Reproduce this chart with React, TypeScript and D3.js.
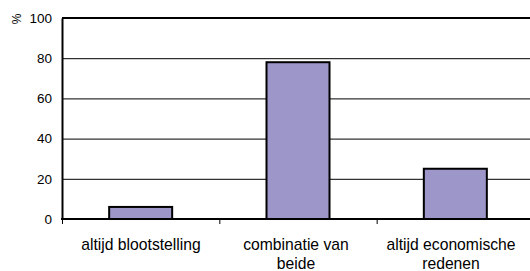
import React, { useEffect, useRef } from 'react';
import * as d3 from 'd3';

const categories = ['altijd blootstelling', 'combinatie van beide', 'altijd economische redenen'];
const labelLines = [['altijd blootstelling'], ['combinatie van', 'beide'], ['altijd economische', 'redenen']];
const values = [6, 78, 25];
const yTicks = [0, 20, 40, 60, 80, 100];

const App: React.FC = () => {
  const ref = useRef<SVGSVGElement>(null);

  useEffect(() => {
    if (!ref.current) return;
    const svg = d3.select(ref.current);
    svg.selectAll('*').remove();

    const left = 62;
    const right = 534;
    const top = 18;
    const bottom = 219;

    const x = d3.scaleBand().domain(categories).range([left, right]).paddingInner(0).paddingOuter(0);
    const y = d3.scaleLinear().domain([0, 100]).range([bottom, top]);
    // label centres sit a bit tighter than the bands
    const xl = d3.scalePoint().domain(categories).range([141, 451]);

    const font = 'Arial, "Liberation Sans", sans-serif';

    // gridlines
    svg
      .append('g')
      .selectAll('line')
      .data(yTicks.filter((t) => t > 0 && t < 100))
      .enter()
      .append('line')
      .attr('x1', left)
      .attr('x2', right)
      .attr('y1', (d) => y(d) + 0.5)
      .attr('y2', (d) => y(d) + 0.5)
      .attr('stroke', '#000')
      .attr('stroke-width', 1);

    // top border
    svg
      .append('line')
      .attr('x1', left)
      .attr('x2', right)
      .attr('y1', y(100))
      .attr('y2', y(100))
      .attr('stroke', '#000')
      .attr('stroke-width', 2);

    // bars
    const barW = 63;
    svg
      .append('g')
      .selectAll('rect')
      .data(values)
      .enter()
      .append('rect')
      .attr('x', (_, i) => x(categories[i])! + x.bandwidth() / 2 - barW / 2)
      .attr('y', (d) => y(d))
      .attr('width', barW)
      .attr('height', (d) => y(0) - y(d))
      .attr('fill', '#9D97C9')
      .attr('stroke', '#000')
      .attr('stroke-width', 2);

    // y axis
    const yAxis = d3.axisLeft(y).tickValues(yTicks).tickSize(0).tickPadding(10);
    svg
      .append('g')
      .attr('transform', `translate(${left},0)`)
      .call(yAxis)
      .call((g) => g.select('.domain').attr('stroke', '#000').attr('stroke-width', 2))
      .call((g) =>
        g.selectAll('.tick text').attr('font-family', font).attr('font-size', 13.5).attr('fill', '#000')
      );

    // x axis line + ticks at band boundaries
    svg
      .append('line')
      .attr('x1', left - 1)
      .attr('x2', right)
      .attr('y1', bottom)
      .attr('y2', bottom)
      .attr('stroke', '#000')
      .attr('stroke-width', 2);

    svg
      .append('g')
      .selectAll('line')
      .data(categories)
      .enter()
      .append('line')
      .attr('x1', (d) => x(d)! + 0.5)
      .attr('x2', (d) => x(d)! + 0.5)
      .attr('y1', bottom)
      .attr('y2', bottom + 5)
      .attr('stroke', '#000')
      .attr('stroke-width', 1);

    // x labels
    const labels = svg
      .append('g')
      .selectAll('text')
      .data(categories)
      .enter()
      .append('text')
      .attr('text-anchor', 'middle')
      .attr('font-family', font)
      .attr('font-size', 15.7)
      .attr('fill', '#000');
    labels.each(function (d, i) {
      const t = d3.select(this);
      labelLines[i].forEach((line, j) => {
        t.append('tspan')
          .attr('x', xl(d)!)
          .attr('y', 250 + j * 19)
          .text(line);
      });
    });

    // % unit
    svg
      .append('text')
      .attr('transform', `translate(21,19) rotate(-90)`)
      .attr('text-anchor', 'middle')
      .attr('font-family', font)
      .attr('font-size', 12)
      .attr('fill', '#000')
      .text('%');
  }, []);

  return (
    <svg
      ref={ref}
      width={530}
      height={271}
      style={{ position: 'absolute', left: 0, top: 0, background: '#fff' }}
    />
  );
};

export default App;
